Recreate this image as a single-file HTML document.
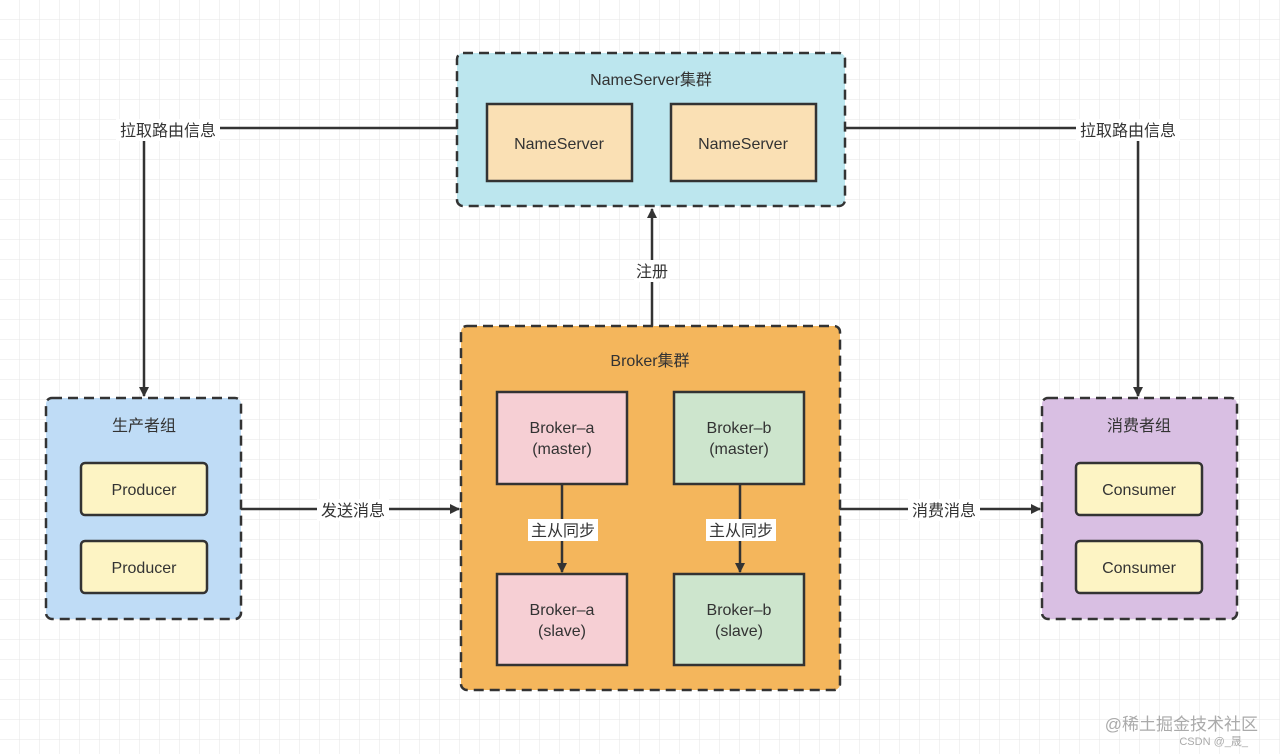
<!DOCTYPE html>
<html><head><meta charset="utf-8"><style>
html,body{margin:0;padding:0;background:#fff}
svg{display:block}
text{font-family:"Liberation Sans","Noto Sans CJK SC",sans-serif;fill:#333}
</style></head><body>
<svg width="1280" height="754" viewBox="0 0 1280 754" xmlns="http://www.w3.org/2000/svg">
<defs>
<pattern id="g" width="20" height="20" patternUnits="userSpaceOnUse">
<path d="M20 0V20M0 20H20" stroke="#e6e6e6" stroke-width="1" fill="none"/>
</pattern>
<marker id="a" markerWidth="10" markerHeight="10" refX="9" refY="5" orient="auto" markerUnits="userSpaceOnUse">
<path d="M0 0L10 5L0 10Z" fill="#333"/>
</marker>
</defs>
<rect width="1280" height="754" fill="url(#g)"/>
<g stroke="#333" stroke-width="2.5" stroke-dasharray="10,6">
<rect x="457" y="53" width="388" height="153" rx="6" fill="#bce6ee"/>
<rect x="461" y="326" width="379" height="364" rx="6" fill="#f4b65c"/>
<rect x="46" y="398" width="195" height="221" rx="6" fill="#bfdcf6"/>
<rect x="1042" y="398" width="195" height="221" rx="6" fill="#d9bfe3"/>
</g>
<g stroke="#333" stroke-width="2.5">
<rect x="487" y="104" width="145" height="77" fill="#fae0b4"/>
<rect x="671" y="104" width="145" height="77" fill="#fae0b4"/>
<rect x="497" y="392" width="130" height="92" fill="#f6cfd4"/>
<rect x="674" y="392" width="130" height="92" fill="#cde5cd"/>
<rect x="497" y="574" width="130" height="91" fill="#f6cfd4"/>
<rect x="674" y="574" width="130" height="91" fill="#cde5cd"/>
<rect x="81" y="463" width="126" height="52" rx="4" fill="#fdf4c4"/>
<rect x="81" y="541" width="126" height="52" rx="4" fill="#fdf4c4"/>
<rect x="1076" y="463" width="126" height="52" rx="4" fill="#fdf4c4"/>
<rect x="1076" y="541" width="126" height="52" rx="4" fill="#fdf4c4"/>
</g>
<g stroke="#333" stroke-width="2.5" fill="none">
<path d="M457 128H144V396" marker-end="url(#a)"/>
<path d="M845 128H1138V396" marker-end="url(#a)"/>
<path d="M652 326V209" marker-end="url(#a)"/>
<path d="M241 509H459" marker-end="url(#a)"/>
<path d="M840 509H1040" marker-end="url(#a)"/>
<path d="M562 484V572" marker-end="url(#a)"/>
<path d="M740 484V572" marker-end="url(#a)"/>
</g>
<g fill="#fff">
<rect x="116" y="119" width="104" height="22"/>
<rect x="1076" y="119" width="104" height="22"/>
<rect x="634" y="260" width="36" height="22"/>
<rect x="317" y="499" width="72" height="22"/>
<rect x="908" y="499" width="72" height="22"/>
<rect x="528" y="519" width="70" height="22"/>
<rect x="706" y="519" width="70" height="22"/>
</g>
<g font-size="16" text-anchor="middle">
<text x="651" y="85">NameServer集群</text>
<text x="559" y="149">NameServer</text>
<text x="743" y="149">NameServer</text>
<text x="650" y="366">Broker集群</text>
<text x="562" y="433">Broker–a</text>
<text x="562" y="454">(master)</text>
<text x="739" y="433">Broker–b</text>
<text x="739" y="454">(master)</text>
<text x="562" y="615">Broker–a</text>
<text x="562" y="636">(slave)</text>
<text x="739" y="615">Broker–b</text>
<text x="739" y="636">(slave)</text>
<text x="144" y="431">生产者组</text>
<text x="144" y="495">Producer</text>
<text x="144" y="573">Producer</text>
<text x="1139" y="431">消费者组</text>
<text x="1139" y="495">Consumer</text>
<text x="1139" y="573">Consumer</text>
<text x="168" y="136">拉取路由信息</text>
<text x="1128" y="136">拉取路由信息</text>
<text x="652" y="277">注册</text>
<text x="353" y="516">发送消息</text>
<text x="944" y="516">消费消息</text>
<text x="563" y="536">主从同步</text>
<text x="741" y="536">主从同步</text>
</g>
<text x="1258" y="730" font-size="17" text-anchor="end" fill="#aaa" style="fill:#aaa">@稀土掘金技术社区</text>
<text x="1248" y="745" font-size="11" text-anchor="end" style="fill:#aaa">CSDN @_晟_</text>
</svg>
</body></html>
